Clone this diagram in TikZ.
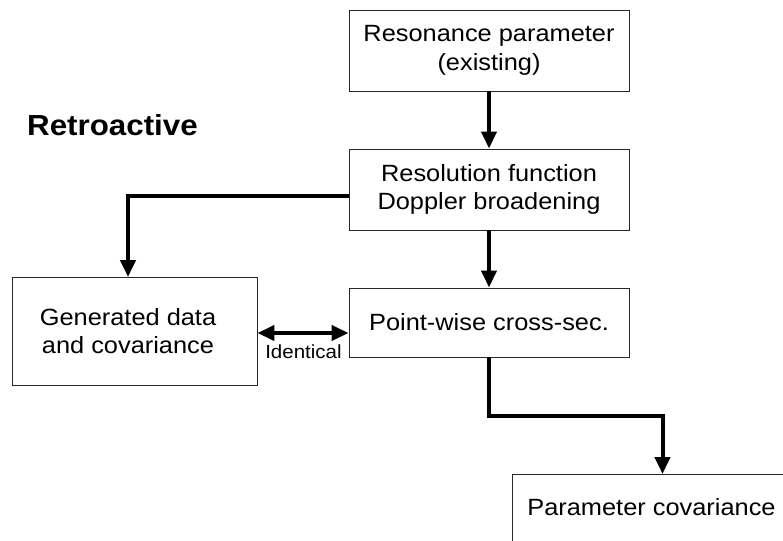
\documentclass[tikz,border=0pt]{standalone}
\usepackage{fontspec}
\setmainfont[FakeStretch=1.08]{Liberation Sans}
\usetikzlibrary{arrows.meta}
\begin{document}
\begin{tikzpicture}[x=1pt,y=-1pt,
  boxtext/.style={font=\fontsize{23.5}{28.5}\selectfont, align=center},
  box/.style={draw=black!85, line width=0.9pt, inner sep=0pt, boxtext},
  tip/.style={Triangle[length=17pt,width=15pt]},
  arr/.style={line width=4pt, -{Triangle[length=17pt,width=15pt]}},
  dbl/.style={line width=4pt, {Triangle[length=17pt,width=15pt]}-{Triangle[length=17pt,width=15pt]}},
]
\useasboundingbox (0,0) rectangle (783,540);
\clip (0,0) rectangle (783,540);

\node[font=\bfseries\fontsize{29}{34}\selectfont, anchor=base west, inner sep=0pt] (title) at (27,136) {Retroactive};

\node[box, minimum width=280pt, minimum height=81pt] (b1) at (489,50.5) {Resonance parameter\\(existing)};
\node[box, minimum width=280pt, minimum height=81pt] (b2) at (489,189.5) {Resolution function\\Doppler broadening};
\node[box, minimum width=280pt, minimum height=69pt] (b3) at (489,322.5) {Point-wise cross-sec.};
\node[box, minimum width=245pt, minimum height=108pt] (b4) at (134.5,331) {};
\node[boxtext, inner sep=0pt] (b4text) at (128,331) {Generated data\\and covariance};
\node[box, anchor=north west, minimum width=279pt, minimum height=90pt] (b5) at (512,474) {};
\node[boxtext, anchor=base, inner sep=0pt] (b5text) at (651.5,515) {Parameter covariance};

\coordinate (s2) at (349,196);
\coordinate (t4) at (128,277);
\coordinate (t5) at (662.5,474);
\coordinate (yI) at (0,333);

\draw[arr] (b1.south) -- (b2.north);
\draw[arr] (b2.south) -- (b3.north);
\draw[arr] (s2) -| (t4);
\draw[arr] (b3.south) -- ++(0,59) -| (t5);
\draw[dbl] (b4.east |- yI) -- (b3.west |- yI);
\node[font=\fontsize{19}{21}\selectfont, anchor=base, inner sep=0pt] (lab) at (303.5,358) {Identical};
\end{tikzpicture}
\end{document}
